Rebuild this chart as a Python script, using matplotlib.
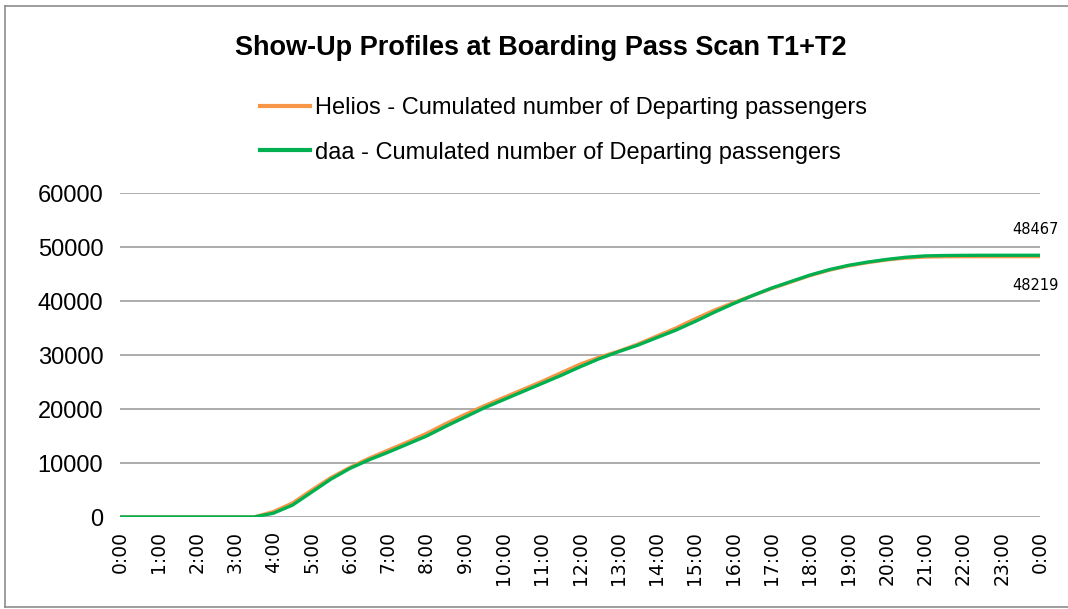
import matplotlib
matplotlib.use("Agg")
import matplotlib.pyplot as plt
from matplotlib.lines import Line2D

# time of day in hours (half-hour steps)
hours = [i * 0.5 for i in range(49)]

helios = [0, 0, 0, 0, 0, 0, 0, 0, 1000, 2600,
          5000, 7300, 9200, 10900, 12400, 13900, 15500, 17300, 19000, 20600,
          22100, 23600, 25100, 26700, 28300, 29600, 30700, 32000, 33500, 35000,
          36700, 38300, 39700, 41000, 42300, 43500, 44700, 45700, 46500, 47100,
          47600, 47950, 48150, 48200, 48219, 48219, 48219, 48219, 48219]

daa = [0, 0, 0, 0, 0, 0, 0, 0, 700, 2200,
       4600, 7000, 9000, 10600, 12000, 13500, 15000, 16800, 18500, 20200,
       21700, 23200, 24700, 26200, 27800, 29300, 30600, 31800, 33200, 34600,
       36200, 37900, 39500, 41000, 42400, 43600, 44800, 45800, 46600, 47200,
       47700, 48100, 48350, 48420, 48450, 48467, 48467, 48467, 48467]

tick_hours = list(range(25))
tick_labels = ["%d:00" % (h % 24) for h in tick_hours]

text_font = ["Liberation Sans", "DejaVu Sans"]

fig = plt.figure(figsize=(10.68, 6.09), dpi=100)
fig.patch.set_facecolor("white")
# outer chart frame (right edge falls outside the picture)
x0, y0, y1 = 5.5 / 1068, 1 - 606.5 / 609, 1 - 6 / 609
for xs, ys in [([x0, x0], [y0, y1]), ([x0, 1], [y1, y1]), ([x0, 1], [y0, y0])]:
    fig.add_artist(Line2D(xs, ys, transform=fig.transFigure, color="#8C8C8C", linewidth=1.2))

ax = fig.add_axes([120 / 1068, 1 - 517 / 609, 920 / 1068, 324 / 609])

ax.plot(hours, helios, color="#F79646", linewidth=2.4,
        label="Helios - Cumulated number of Departing passengers", zorder=3)
ax.plot(hours, daa, color="#00B050", linewidth=2.4,
        label="daa - Cumulated number of Departing passengers", zorder=4)

ax.set_xlim(0, 24)
ax.set_ylim(0, 60000)
ax.set_yticks(range(0, 60001, 10000))
ax.set_xticks(tick_hours)
ax.set_xticklabels(tick_labels, rotation=90, fontsize=13.5, family="DejaVu Sans")
for lbl in ax.get_yticklabels():
    lbl.set_family(text_font)
    lbl.set_fontsize(17)

for s in ax.spines.values():
    s.set_visible(False)
ax.tick_params(axis="both", length=0, colors="black")
ax.tick_params(axis="y", pad=12)
ax.tick_params(axis="x", pad=10)
ax.yaxis.grid(True, color="#A6A6A6", linewidth=1.3, zorder=0)
ax.set_axisbelow(True)

# end-value labels
ax.text(24.48, daa[-1] + 4700, str(daa[-1]), fontsize=10.5, ha="right", va="center",
        family="DejaVu Sans")
ax.text(24.48, helios[-1] - 5300, str(helios[-1]), fontsize=10.5, ha="right", va="center",
        family="DejaVu Sans")

fig.text(0.506, 0.921, "Show-Up Profiles at Boarding Pass Scan T1+T2", ha="center", va="center",
         fontsize=19.5, fontweight="bold", family=text_font)

leg = ax.legend(loc="upper left", bbox_to_anchor=(239 / 1068, 1 - 76 / 609),
                bbox_transform=fig.transFigure, frameon=False, handlelength=2.1,
                handletextpad=0.2, labelspacing=0.95, prop={"family": text_font, "size": 17})
for line in leg.get_lines():
    line.set_linewidth(3)

fig.savefig("out.png", dpi=100)
